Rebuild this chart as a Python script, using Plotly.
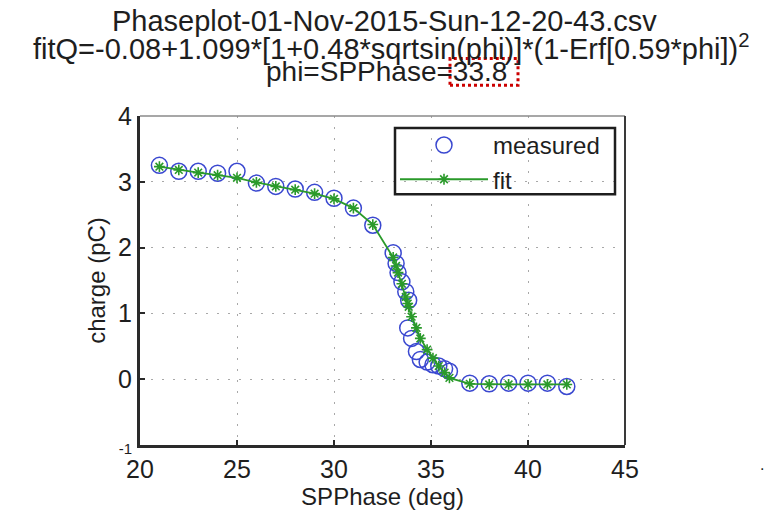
import plotly.graph_objects as go

# ---- data ----
meas_x = [21, 22, 23, 24, 25, 26, 27, 28, 29, 30, 31, 32,
          33.05, 33.2, 33.3, 33.5, 33.7, 33.85, 33.8, 34.0, 34.25, 34.45,
          34.8, 35.1, 35.4, 35.7, 35.95, 37, 38, 39, 40, 41, 42]
meas_y = [3.25, 3.16, 3.16, 3.13, 3.16, 2.98, 2.93, 2.89, 2.84, 2.75, 2.60, 2.34,
          1.92, 1.76, 1.62, 1.48, 1.33, 1.20, 0.78, 0.62, 0.42, 0.30,
          0.26, 0.22, 0.20, 0.16, 0.12, -0.06, -0.07, -0.06, -0.06, -0.06, -0.11]

fit_x = [21, 22, 23, 24, 25, 26, 27, 28, 29, 30, 31, 32,
         33.05, 33.2, 33.3, 33.5, 33.7, 33.8, 33.85, 34.0, 34.25, 34.45,
         34.8, 35.1, 35.4, 35.7, 35.95, 37, 38, 39, 40, 41, 42]
fit_y = [3.23, 3.18, 3.14, 3.10, 3.06, 2.99, 2.93, 2.88, 2.82, 2.74, 2.60, 2.35,
         1.85, 1.72, 1.62, 1.45, 1.25, 1.15, 1.10, 0.95, 0.78, 0.62,
         0.45, 0.32, 0.20, 0.10, 0.02, -0.07, -0.08, -0.08, -0.08, -0.08, -0.08]

x_ticks = [20, 25, 30, 35, 40, 45]
x_tick_text = ["20", "25", "30", "35", "40", "45"]
y_ticks = [-1, 0, 1, 2, 3, 4]
y_tick_text = ["<span style='font-size:15px'>-1</span>", "0", "1", "2", "3", "4"]

title_lines = ["Phaseplot-01-Nov-2015-Sun-12-20-43.csv",
               "fitQ=-0.08+1.099*[1+0.48*sqrtsin(phi)]*(1-Erf[0.59*phi])<sup>2</sup>",
               "phi=SPPhase=33.8"]

FONT = "Liberation Sans, Arial, sans-serif"
BLUE = "#3a48d0"
GREEN = "#2a9a2a"
TXT = "#1e1e1e"

L, R, T, B = 140, 625, 116, 448
PW, PH = R - L, B - T


def px(xp):
    return (xp - L) / PW


def py(yp):
    return (B - yp) / PH


fig = go.Figure()
fig.add_trace(go.Scatter(
    x=meas_x, y=meas_y, mode="markers", name="measured",
    marker=dict(symbol="circle-open", size=16, color=BLUE, line=dict(width=1.5, color=BLUE)),
))
fig.add_trace(go.Scatter(
    x=fit_x, y=fit_y, mode="lines+markers", name="fit",
    line=dict(color=GREEN, width=1.8),
    marker=dict(symbol="asterisk-open", size=9, color=GREEN, line=dict(width=1.6, color=GREEN)),
))

axis_common = dict(
    showgrid=True, gridcolor="#a8a8a8", griddash="2px,9px", gridwidth=1.2,
    zeroline=False, showline=True, linecolor="#2a2a2a", linewidth=3,
    ticks="inside", ticklen=5, tickcolor="#2a2a2a", tickwidth=1.5,
    tickfont=dict(family=FONT, size=25, color=TXT),
)

fig.update_layout(
    width=772, height=516,
    margin=dict(l=L, r=772 - R, t=T, b=516 - B),
    paper_bgcolor="white", plot_bgcolor="white",
    font=dict(family=FONT, color=TXT),
    showlegend=True,
    legend=dict(
        x=px(395), y=py(123), xanchor="left", yanchor="top",
        bgcolor="rgba(0,0,0,0)", borderwidth=0,
        font=dict(family=FONT, size=24, color=TXT),
        itemwidth=88, tracegroupgap=0,
    ),
    xaxis=dict(range=[20, 45], tickvals=x_ticks, ticktext=x_tick_text,
               title=dict(text="SPPhase (deg)", font=dict(family=FONT, size=24, color=TXT), standoff=4),
               **axis_common),
    yaxis=dict(range=[-1, 4], tickvals=y_ticks, ticktext=y_tick_text,
               title=dict(text="charge (pC)", font=dict(family=FONT, size=24, color=TXT), standoff=6),
               **axis_common),
)

# legend frame
fig.add_shape(type="rect", xref="paper", yref="paper",
              x0=px(395), x1=px(615), y0=py(195), y1=py(128),
              line=dict(color="#1e1e1e", width=2.5), fillcolor="rgba(0,0,0,0)")

# top/right box edges (thinner)
fig.add_shape(type="line", xref="paper", yref="paper", x0=0, x1=1, y0=1, y1=1,
              line=dict(color="#8a8a8a", width=1.5))
fig.add_shape(type="line", xref="paper", yref="paper", x0=1, x1=1, y0=0, y1=1,
              line=dict(color="#3a3a3a", width=2))

# title lines
title_pos = [(384, 20, 29), (391, 46, 29), (386, 71, 28)]
for txt, (xc, yc, fs) in zip(title_lines, title_pos):
    fig.add_annotation(text=txt, xref="paper", yref="paper",
                       x=px(xc), y=py(yc),
                       xanchor="center", yanchor="middle", showarrow=False,
                       font=dict(family=FONT, size=fs, color=TXT))

# red dotted highlight box around the phase value
fig.add_shape(type="rect", xref="paper", yref="paper",
              x0=px(450), x1=px(518), y0=py(85), y1=py(58),
              line=dict(color="#cc0000", width=3, dash="dot"))

fig.add_annotation(text=".", xref="paper", yref="paper",
                   x=px(766), y=py(478), showarrow=False,
                   font=dict(family=FONT, size=16, color=TXT))

fig.write_html("out.html")
